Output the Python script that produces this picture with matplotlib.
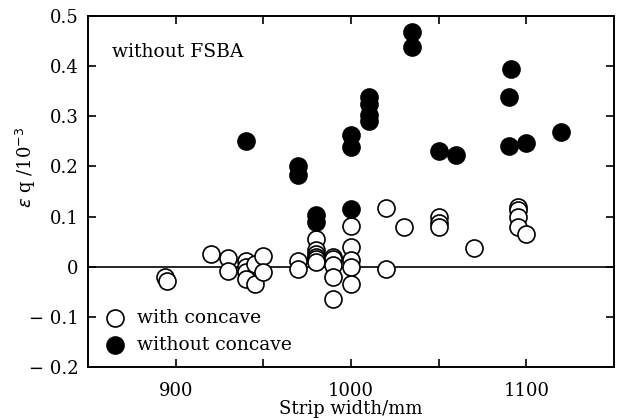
import numpy as np
import matplotlib.pyplot as plt

# with concave (open circles)
open_x = [894, 895, 920, 930, 930, 940, 940, 940, 940, 945, 945, 950, 950,
          970, 970, 980, 980, 980, 980, 980, 980,
          990, 990, 990, 990, 990,
          1000, 1000, 1000, 1000, 1000,
          1020, 1020, 1030, 1050, 1050, 1050, 1070,
          1095, 1095, 1095, 1095, 1100]
open_y = [-0.02, -0.028, 0.025, 0.018, -0.008, 0.012, 0.0, -0.01, -0.025, -0.035, 0.005, 0.022, -0.01,
          0.012, -0.005, 0.055, 0.033, 0.025, 0.02, 0.015, 0.01,
          0.02, 0.015, 0.004, -0.02, -0.064,
          0.081, 0.04, 0.013, -0.001, -0.035,
          0.117, -0.004, 0.08, 0.1, 0.088, 0.079, 0.037,
          0.12, 0.113, 0.1, 0.08, 0.066]

# without concave (filled circles)
fill_x = [940, 970, 970, 980, 980, 1000, 1000, 1000,
          1010, 1010, 1010, 1010, 1035, 1035, 1050, 1060,
          1091, 1090, 1090, 1100, 1120]
fill_y = [0.251, 0.201, 0.183, 0.104, 0.09, 0.115, 0.263, 0.238,
          0.338, 0.325, 0.303, 0.291, 0.468, 0.438, 0.23, 0.222,
          0.395, 0.339, 0.24, 0.247, 0.268]

plt.rcParams['font.family'] = ['DejaVu Serif']
plt.rcParams['font.size'] = 13
plt.rcParams['axes.unicode_minus'] = True

fig = plt.figure(figsize=(6.21, 4.18), dpi=100)
ax = fig.add_axes([0.1417, 0.122, 0.847, 0.8397])

ax.axhline(0, color='black', lw=1.2, zorder=1)
ax.scatter(open_x, open_y, s=150, facecolors='white', edgecolors='black',
           linewidths=1.2, zorder=3, label='with concave')
ax.scatter(fill_x, fill_y, s=150, facecolors='black', edgecolors='black',
           linewidths=1.2, zorder=3, label='without concave')

ax.set_xlim(850, 1150)
ax.set_ylim(-0.2, 0.5)
ax.set_xticks([900, 950, 1000, 1050, 1100])
ax.set_xticklabels(['900', '', '1000', '', '1100'])
yt = [-0.2, -0.1, 0, 0.1, 0.2, 0.3, 0.4, 0.5]
ax.set_yticks(yt)
ax.set_yticklabels(['\u2212 0.2', '\u2212 0.1', '0', '0.1', '0.2', '0.3', '0.4', '0.5'])
ax.tick_params(direction='in', length=6, width=1.2, top=True, right=True,
               labeltop=False, labelright=False, labelsize=13)
ax.tick_params(axis='x', pad=11)
ax.tick_params(axis='y', pad=7)
for sp in ax.spines.values():
    sp.set_linewidth(1.4)

ax.set_xlabel('Strip width/mm', fontsize=13, labelpad=0)
ax.set_ylabel(r'$\varepsilon$ q /10$^{-3}$', fontsize=13)
ax.yaxis.set_label_coords(-0.095, 0.57)

ax.text(0.045, 0.897, 'without FSBA', transform=ax.transAxes, fontsize=13.5,
        va='center', ha='left')

ax.legend(loc='lower left', frameon=False, handletextpad=0.42,
          borderaxespad=0.41, labelspacing=0.47, fontsize=13.5,
          borderpad=0.3, handlelength=1.5)

fig.savefig('out.png', dpi=100)
